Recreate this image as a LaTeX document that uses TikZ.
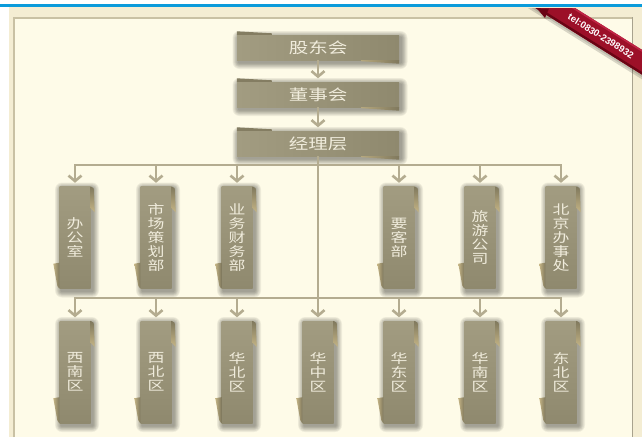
\documentclass[tikz,border=0pt]{standalone}
\usepackage{fontspec}
\newfontfamily\cjkface[FakeStretch=1.3]{Noto Sans CJK SC}
\newfontfamily\telface{Liberation Sans}
\usetikzlibrary{arrows.meta,calc}

\definecolor{bgouter}{HTML}{F4EDD3}
\definecolor{panelfill}{HTML}{FEFBE8}
\definecolor{paneledge}{HTML}{C9C1A4}
\definecolor{paneledgeR}{HTML}{A8A28E}
\definecolor{topbar}{HTML}{0A9BDB}
\definecolor{lineC}{HTML}{B4AC90}
\definecolor{boxA}{HTML}{A29C81}
\definecolor{boxB}{HTML}{8F896E}
\definecolor{boxtext}{HTML}{F0ECDC}
\definecolor{flapdark}{HTML}{7F785D}
\definecolor{flapgold}{HTML}{C4B485}
\definecolor{ribA}{HTML}{9C1028}
\definecolor{ribHi}{HTML}{BE2444}
\definecolor{ribLo}{HTML}{6A0414}

\pgfdeclarelayer{back}
\pgfdeclarelayer{shade}
\pgfsetlayers{back,shade,main}

\tikzset{
  conn/.style={draw=lineC, line width=2.2pt,
    -{Straight Barb[length=5.5pt,width=13pt,line width=2.6pt]}, shorten >=3.5pt},
  rule/.style={draw=lineC, line width=2.2pt, line cap=rect},
  hbox/.style={minimum width=162pt, minimum height=25pt, inner sep=0pt,
    left color=boxA, right color=boxB, text=boxtext,
    font=\cjkface\fontsize{15}{17}\selectfont},
  vbox/.style={minimum width=31pt, minimum height=102pt, inner sep=0pt,
    top color=boxA, bottom color=boxB, text=boxtext, align=center,
    font=\cjkface\fontsize{13}{14}\selectfont},
}

% soft drop shadow behind a label, built from stacked translucent rectangles
\newcommand\softshadow[1]{%
  \begin{pgfonlayer}{shade}
  \foreach \k in {1,...,7} {
    \fill[black, opacity=0.06, rounded corners=\k pt]
      ($(#1.north west)+(2-\k*0.9,2.5-\k*0.9)$) rectangle
      ($(#1.south east)+(2+\k*0.9,2.5+\k*0.9)$);
  }
  \end{pgfonlayer}
}
% folded ribbon ends of a vertical label
\newcommand\vflaps[1]{%
  \shade[top color=flapdark, bottom color=flapgold]
    (#1.north east) -- ++(3,2) -- ++(1,24) -- ++(-4,-4) -- cycle;
  \shade[left color=flapgold, right color=flapdark]
    (#1.south west) ++(0,-26) -- ++(-6,1) -- ++(4,22) -- ++(2,3) -- cycle;
  \softshadow{#1}
}
% folded ribbon ends of a horizontal label
\newcommand\hflaps[1]{%
  \fill[flapdark!85!boxA] (#1.north west) -- ++(0,-3.5) -- ++(35,2) -- ++(0,1.5) -- cycle;
  \shade[left color=flapgold!80!flapdark, right color=flapdark]
    (#1.south east) -- ++(0,3.5) -- ++(-38,-2.5) -- ++(0,-1) -- cycle;
  \softshadow{#1}
}

\begin{document}
\begin{tikzpicture}[x=1pt,y=-1pt]
\useasboundingbox (0,0) rectangle (642,437);

% page background and framed panel
\begin{pgfonlayer}{back}
\fill[white] (0,0) rectangle (642,437);
\fill[topbar] (0,3.5) rectangle (642,6.5);
\fill[bgouter] (9,6.5) rectangle (642,437);
\fill[panelfill] (13,17) rectangle (633,437);
\draw[paneledge, line width=1.5pt] (13.75,437) -- (13.75,17.75) -- (632,17.75);
\draw[paneledgeR, line width=1.5pt] (632.25,17) -- (632.25,437);
\end{pgfonlayer}

% management chain
\node[hbox] (gd) at (318,47.5) {股东会};
\node[hbox] (ds) at (318,94.5) {董事会};
\node[hbox] (jl) at (318,143.5) {经理层};
\hflaps{gd}\hflaps{ds}\hflaps{jl}

% departments
\node[vbox] (t1) at (75,237.5)  {办\\公\\室};
\node[vbox] (t2) at (156,237.5) {市\\场\\策\\划\\部};
\node[vbox] (t3) at (237,237.5) {业\\务\\财\\务\\部};
\node[vbox] (t4) at (399,237.5) {要\\客\\部};
\node[vbox] (t5) at (480,237.5) {旅\\游\\公\\司};
\node[vbox] (t6) at (561,237.5) {北\\京\\办\\事\\处};
\foreach \n in {t1,t2,t3,t4,t5,t6} {\vflaps{\n}}

% regions
\node[vbox] (b1) at (75,372)  {西\\南\\区};
\node[vbox] (b2) at (156,372) {西\\北\\区};
\node[vbox] (b3) at (237,372) {华\\北\\区};
\node[vbox] (b4) at (318,372) {华\\中\\区};
\node[vbox] (b5) at (399,372) {华\\东\\区};
\node[vbox] (b6) at (480,372) {华\\南\\区};
\node[vbox] (b7) at (561,372) {东\\北\\区};
\foreach \n in {b1,b2,b3,b4,b5,b6,b7} {\vflaps{\n}}

% connectors
\coordinate (upper) at (318,165);
\coordinate (lower) at (318,298);
\draw[conn] (gd) -- (ds);
\draw[conn] (ds) -- (jl);
\draw[rule] (t1.north |- upper) -- (t6.north |- upper);
\foreach \n in {t1,t2,t3,t4,t5,t6} {\draw[conn] (\n.north |- upper) -- (\n.north);}
\draw[rule] (b1.north |- lower) -- (b7.north |- lower);
\foreach \n in {b1,b2,b3,b5,b6,b7} {\draw[conn] (\n.north |- lower) -- (\n.north);}
\draw[conn] (jl) -- (b4);

% corner ribbon
\begin{scope}
  \clip (520,8.5) rectangle (642,110);
  \begin{scope}[shift={(600,36)}, rotate=-32]
    \fill[black, opacity=0.15] (-120,-7) rectangle (120,14.5);
    \fill[black, opacity=0.12] (-120,-7) rectangle (120,12.5);
    \fill[ribA] (-120,-10.5) rectangle (120,10.5);
    \fill[ribHi] (-120,-10.5) rectangle (120,-8.8);
    \fill[ribLo] (-120,8.2) rectangle (120,10.5);
  \end{scope}
  \fill[ribLo] (537,8.5) -- (549,8.5) -- (545,18) -- cycle;
\end{scope}
\node[rotate=-32, text=white, inner sep=0pt,
  font=\telface\bfseries\fontsize{9.5}{10}\selectfont] (tel) at (601,36) {tel:0830-2398932};
\end{tikzpicture}
\end{document}
